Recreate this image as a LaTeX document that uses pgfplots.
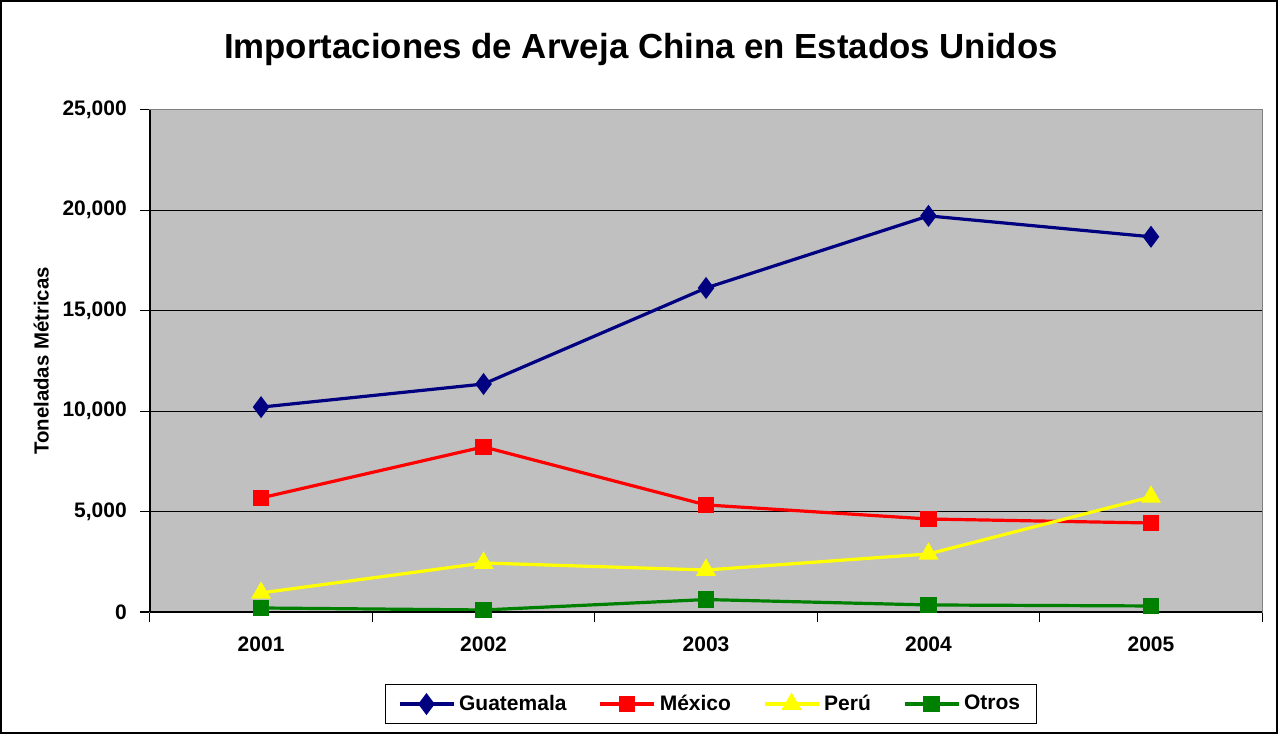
\documentclass[border=0pt]{standalone}
\usepackage{fontspec}
\setmainfont{Liberation Sans}
\usepackage{pgfplots}
\pgfplotsset{compat=1.18}
\definecolor{guat}{RGB}{0,0,128}
\definecolor{mex}{RGB}{255,0,0}
\definecolor{per}{RGB}{255,255,0}
\definecolor{otr}{RGB}{0,128,0}
\definecolor{plotbg}{RGB}{192,192,192}
\begin{document}
\begin{tikzpicture}
\begin{axis}[
  name=ax, at={(0,0)}, anchor=south west,
  scale only axis, width=556pt, height=251pt,
  xmin=0.5, xmax=5.5, ymin=0, ymax=25000,
  axis background/.style={fill=plotbg},
  axis line style={draw=black!50},
  xtick={0.5,1.5,2.5,3.5,4.5,5.5},
  xticklabels={},
  extra x ticks={1,2,3,4,5},
  extra x tick labels={2001,2002,2003,2004,2005},
  extra x tick style={major tick length=0pt, grid=none, xticklabel style={yshift=-9pt}},
  x tick style={black, line width=0.6pt},
  ytick={0,5000,10000,15000,20000,25000},
  ymajorgrids, grid style={black, line width=0.6pt},
  y tick style={black, line width=0.6pt},
  major tick length=5pt,
  tick align=outside,
  xtick pos=bottom, ytick pos=left,
  scaled y ticks=false,
  /pgf/number format/.cd, 1000 sep={,}, assume math mode=true,
  /pgfplots/.cd,
  tick label style={font=\bfseries\fontsize{10.5}{12}\selectfont},
  yticklabel style={xshift=-3pt},
  ylabel={Toneladas Métricas},
  ylabel style={font=\bfseries\fontsize{10.2}{12}\selectfont},
  legend style={at={(0.5045,-0.1833)}, anchor=center, legend columns=4, draw=black, fill=white,
    font=\bfseries\fontsize{10.5}{12}\selectfont, inner xsep=6pt, inner ysep=3pt,
    /tikz/every even column/.append style={column sep=14pt}},
  legend image code/.code={\draw[mark repeat=2,mark phase=2,#1] plot coordinates {(0pt,0pt)(13.5pt,0pt)(27pt,0pt)};},
  clip=false,
]
\addplot[guat, line width=1.6pt, mark=diamond*, mark size=4.2pt, mark options={solid}] coordinates {(1,10200) (2,11350) (3,16130) (4,19720) (5,18680)};
\addlegendentry{Guatemala}
\addplot[mex, line width=1.6pt, mark=square*, mark size=3.3pt] coordinates {(1,5680) (2,8220) (3,5330) (4,4630) (5,4430)};
\addlegendentry{México}
\addplot[per, line width=1.6pt, mark=triangle*, mark size=4.2pt] coordinates {(1,950) (2,2440) (3,2090) (4,2890) (5,5730)};
\addlegendentry{Perú}
\addplot[otr, line width=1.6pt, mark=square*, mark size=3.3pt] coordinates {(1,200) (2,100) (3,620) (4,350) (5,300)};
\addlegendentry{Otros}
\draw[black, line width=0.8pt] (rel axis cs:0,0) -- (rel axis cs:1,0);
\draw[black, line width=0.8pt] (rel axis cs:0,0) -- (rel axis cs:0,1);
\node[font=\bfseries\fontsize{17.4}{20}\selectfont] at (rel axis cs:0.4415,1.121) {Importaciones de Arveja China en Estados Unidos};
\end{axis}
\begin{scope}[shift={(ax.south west)}]
\draw[black, line width=0.8pt] (-74.5pt,-60.5pt) rectangle (563.5pt,305.5pt);
\end{scope}
\end{tikzpicture}
\end{document}
